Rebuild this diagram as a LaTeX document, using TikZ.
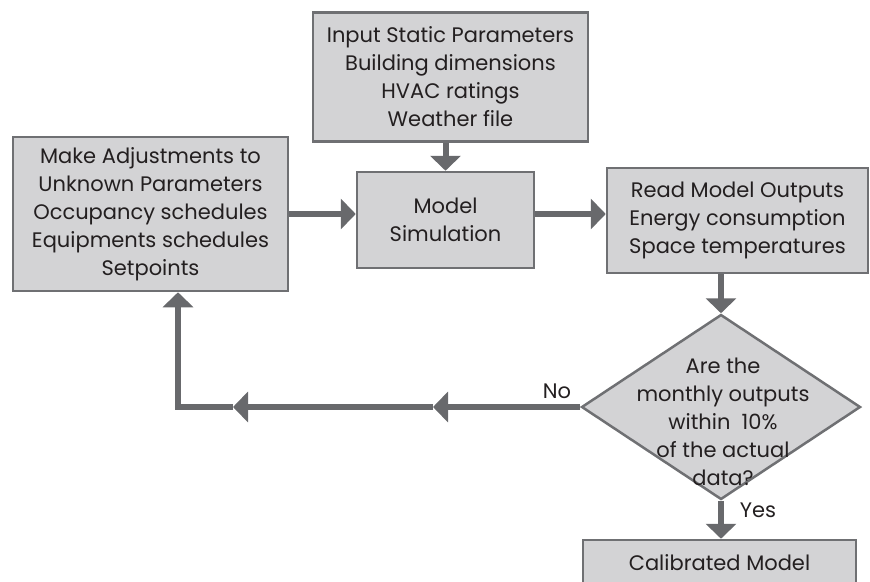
\documentclass[tikz,border=0pt]{standalone}
\usepackage{fontspec}
\setmainfont{Poppins}
\usetikzlibrary{arrows.meta,shapes.geometric}
\definecolor{boxfill}{HTML}{D3D3D5}
\definecolor{boxline}{HTML}{6F7073}
\definecolor{arr}{HTML}{68696C}
\definecolor{txt}{HTML}{231F20}
\begin{document}
\begin{tikzpicture}[x=1pt,y=-1pt,
  lbl/.style={text=txt,font=\fontsize{21}{28}\selectfont,inner sep=0pt,align=center},
  box/.style={lbl,draw=boxline,fill=boxfill,line width=2.5pt},
  flow/.style={draw=arr,line width=6pt,-{Triangle[length=15pt,width=30pt]}}]
\useasboundingbox (0,0) rectangle (870,581);
\node[box,minimum width=275pt,minimum height=129pt] (inp) at (450.5,77) {Input Static Parameters\\Building dimensions\\HVAC ratings\\Weather file};
\node[box,minimum width=177pt,minimum height=96pt] (sim) at (445.5,220) {Model\\Simulation};
\node[box,minimum width=275pt,minimum height=154pt] (adj) at (150.5,214) {Make Adjustments to\\Unknown Parameters\\Occupancy schedules\\Equipments schedules\\Setpoints};
\node[box,minimum width=261pt,minimum height=105pt] (out) at (737.5,220.5) {Read Model Outputs\\Energy consumption\\Space temperatures};
\node[draw=boxline,fill=boxfill,line width=2.5pt,shape=diamond,minimum width=279pt,minimum height=185pt,inner sep=0pt] (dec) at (721,407) {};
\node[lbl] (dect) at (723,422) {Are the\\monthly outputs\\within \ 10\%\\of the actual\\data?};
\node[box,minimum width=273pt,minimum height=46pt] (cal) at (719.5,563) {Calibrated Model};
\node[lbl,anchor=base] (no) at (557,398) {No};
\node[lbl,anchor=base] (yes) at (758,517) {Yes};
\coordinate (h1) at (433,407);
\coordinate (h2) at (233,407);
\coordinate (corner) at (178,407);
\draw[flow] (inp.south -| sim.north) -- (sim.north);
\draw[flow] (adj.east) -- (adj.east -| sim.west);
\draw[flow] (sim.east |- adj.east) -- (adj.east -| out.west);
\draw[flow] (out.south -| dec.north) -- (dec.north);
\draw[flow] (dec.south) -- (cal.north -| dec.south);
\draw[flow] (dec.west) -- (h1);
\draw[flow] (h1) -- (h2);
\draw[flow] (h2) -- (corner) -- (adj.south -| corner);
\end{tikzpicture}
\end{document}
